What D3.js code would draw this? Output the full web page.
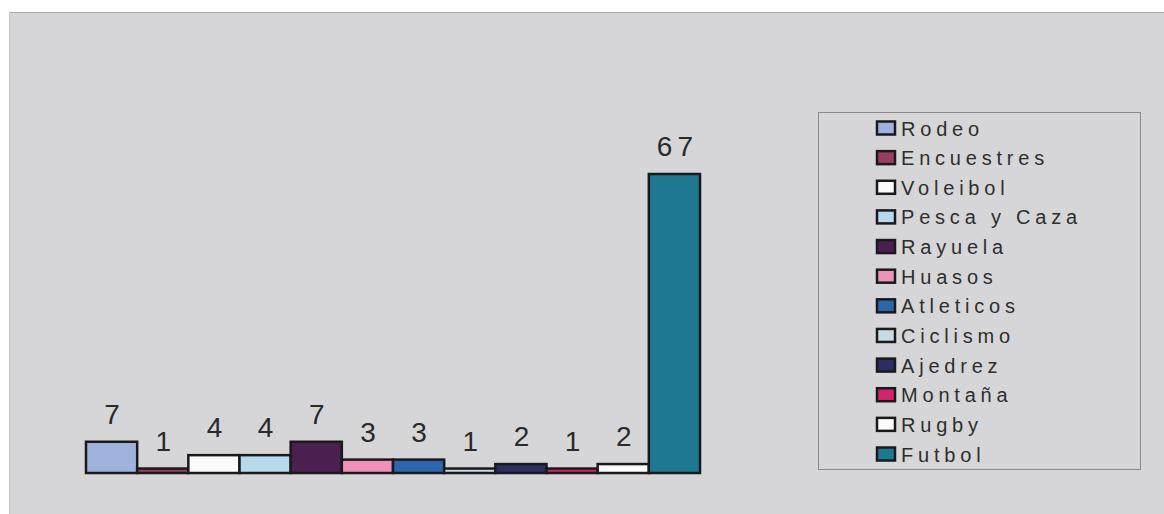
<!DOCTYPE html>
<html lang="es">
<head>
    <meta charset="UTF-8">
    <title>Deportes</title>
    <script src="https://d3js.org/d3.v7.min.js"></script>
    <style>
        body { margin: 0; background: #ffffff; }
        svg { display: block; }
        .value { font-family: "Liberation Sans", Arial, sans-serif; fill: #2a2a2a; }
        .legend text { font-family: "Liberation Sans", Arial, sans-serif; fill: #2e2e2e; }
    </style>
</head>
<body>
    <div id="chart"></div>
    <script>
        // categories and values
        const sports = ["Rodeo", "Encuestres", "Voleibol", "Pesca y Caza", "Rayuela", "Huasos",
            "Atleticos", "Ciclismo", "Ajedrez", "Montaña", "Rugby", "Futbol"];
        const counts = [7, 1, 4, 4, 7, 3, 3, 1, 2, 1, 2, 67];
        const colors = ["#9fb2de", "#9a3d63", "#fbfbfb", "#b6d9ee", "#4b1f4f", "#ee92ba",
            "#2b66ae", "#c6dbe6", "#2b2d63", "#d2236c", "#fbfbfb", "#1f7891"];

        const W = 1164, H = 514;
        const plot = { left: 86, right: 700, top: 174, bottom: 473 };

        const svg = d3.select("#chart").append("svg")
            .attr("width", W)
            .attr("height", H);

        // gray chart area
        svg.append("rect")
            .attr("x", 9).attr("y", 12)
            .attr("width", W - 9).attr("height", H - 12)
            .attr("fill", "#d6d6d8");
        svg.append("line")
            .attr("x1", 9).attr("x2", W).attr("y1", 12.5).attr("y2", 12.5)
            .attr("stroke", "#a9a9ab").attr("stroke-width", 1);
        svg.append("line")
            .attr("x1", 9.5).attr("x2", 9.5).attr("y1", 12).attr("y2", H)
            .attr("stroke", "#c4c4c6").attr("stroke-width", 1);

        const x = d3.scaleBand()
            .domain(sports)
            .range([plot.left, plot.right])
            .padding(0);

        const y = d3.scaleLinear()
            .domain([0, d3.max(counts)])
            .range([plot.bottom, plot.top]);

        const data = sports.map((s, i) => ({ name: s, value: counts[i], color: colors[i] }));

        // bars
        svg.append("g").selectAll("rect")
            .data(data)
            .enter()
            .append("rect")
            .attr("x", d => x(d.name))
            .attr("y", d => y(d.value))
            .attr("width", x.bandwidth())
            .attr("height", d => y(0) - y(d.value))
            .attr("fill", d => d.color)
            .attr("stroke", "#1a1a1a")
            .attr("stroke-width", 2.5);

        // value labels
        svg.append("g").selectAll("text")
            .data(data)
            .enter()
            .append("text")
            .attr("class", "value")
            .attr("x", d => x(d.name) + x.bandwidth() / 2)
            .attr("dx", 3)
            .attr("y", d => y(d.value) - 18)
            .attr("text-anchor", "middle")
            .style("font-size", "28px")
            .style("letter-spacing", "5px")
            .text(d => d.value);

        // legend
        const legend = svg.append("g").attr("class", "legend");
        legend.append("rect")
            .attr("x", 818.5).attr("y", 112.5)
            .attr("width", 322).attr("height", 357)
            .attr("fill", "none")
            .attr("stroke", "#8a8a8c")
            .attr("stroke-width", 1);

        const rowY = d3.scalePoint()
            .domain(sports)
            .range([128, 454]);

        const item = legend.selectAll("g.item")
            .data(data)
            .enter()
            .append("g")
            .attr("class", "item")
            .attr("transform", d => "translate(876," + rowY(d.name) + ")");

        item.append("rect")
            .attr("x", 1).attr("y", -6.5)
            .attr("width", 18).attr("height", 13)
            .attr("fill", d => d.color)
            .attr("stroke", "#1a1a1a")
            .attr("stroke-width", 2.5);

        item.append("text")
            .attr("x", 25)
            .attr("y", 7.5)
            .style("font-size", "20px")
            .style("letter-spacing", "4.8px")
            .text(d => d.name);
    </script>
</body>
</html>
